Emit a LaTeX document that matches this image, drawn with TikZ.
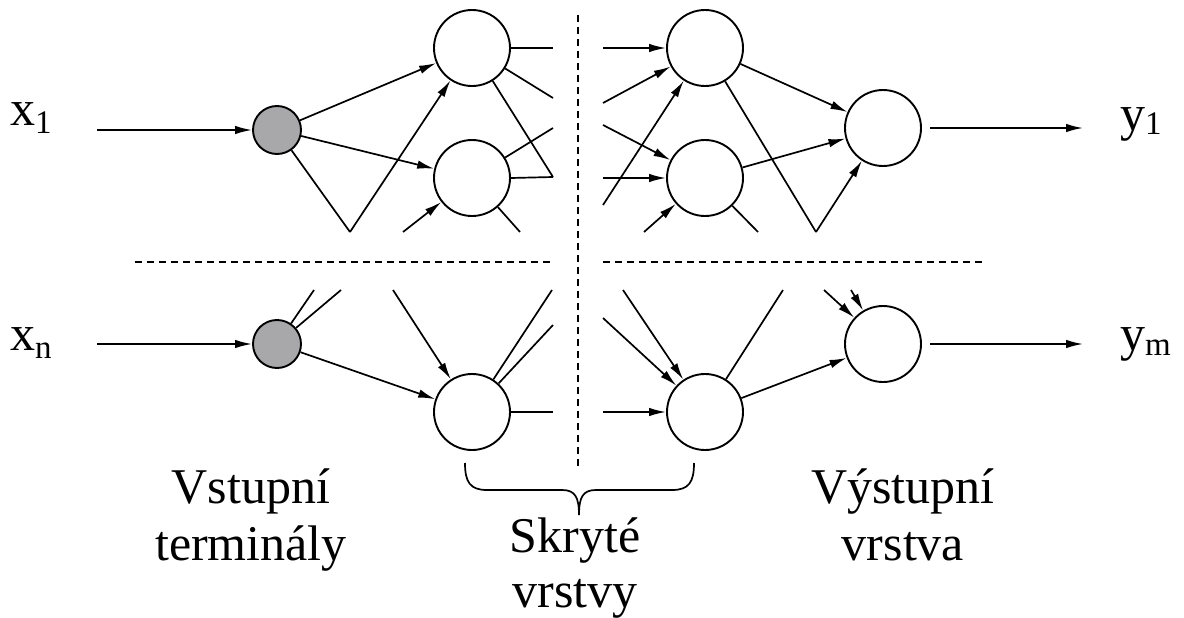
\documentclass[tikz,border=0pt]{standalone}
\usepackage{fontspec}
\setmainfont{Liberation Serif}
\usetikzlibrary{arrows.meta}
\definecolor{termgray}{RGB}{168,168,170}
\newcommand{\subsc}[2][8pt]{\raisebox{-#1}{\fontsize{33}{33}\selectfont #2}}
\begin{document}
\begin{tikzpicture}[x=1pt,y=-1pt,
  neuron/.style={circle,draw,line width=1.9pt,minimum size=76pt,inner sep=0pt},
  term/.style={circle,draw,line width=1.9pt,fill=termgray,minimum size=48pt,inner sep=0pt},
  conn/.style={line width=1.7pt},
  arr/.style={conn,-{Latex[length=17pt,width=8.5pt]}},
  lbl/.style={font=\fontsize{50}{56}\selectfont,inner sep=0pt},
  sep/.style={line width=1.4pt,dash pattern=on 7pt off 5pt}]
\useasboundingbox (0,0) rectangle (1184,618);

% nodes
\node[term] (G1) at (277,130) {};
\node[term] (Gn) at (277,344) {};
\node[neuron] (A1) at (472,48) {};
\node[neuron] (A2) at (472,178) {};
\node[neuron] (A3) at (472,412) {};
\node[neuron] (B1) at (705,48) {};
\node[neuron] (B2) at (705,178) {};
\node[neuron] (B3) at (705,412) {};
\node[neuron] (O1) at (883,128) {};
\node[neuron] (O2) at (883,344) {};

% free ends
\coordinate (in1) at (97,130);
\coordinate (inn) at (97,344);
\coordinate (o1s) at (930,128);
\coordinate (o1e) at (1083,128);
\coordinate (o2s) at (930,344);
\coordinate (o2e) at (1083,344);
\coordinate (t1) at (350,232);
\coordinate (t2) at (403,232);
\coordinate (t3) at (553,48);
\coordinate (t4) at (553,98);
\coordinate (t5) at (553,177);
\coordinate (t6) at (553,128);
\coordinate (t7) at (520,232);
\coordinate (u1) at (603,48);
\coordinate (u2) at (603,103);
\coordinate (u3) at (603,205);
\coordinate (u4) at (603,125);
\coordinate (u5) at (603,178);
\coordinate (u6) at (644,232);
\coordinate (u7) at (758,232);
\coordinate (u8) at (816,232);
\coordinate (b1) at (314,290);
\coordinate (b2) at (341,290);
\coordinate (b3) at (393,290);
\coordinate (b4) at (552,290);
\coordinate (b5) at (553,325);
\coordinate (b6) at (553,412);
\coordinate (c1) at (623,290);
\coordinate (c2) at (603,318);
\coordinate (c3) at (603,412);
\coordinate (c4) at (783,290);
\coordinate (c5) at (824,290);
\coordinate (c6) at (851,290);

% inputs / outputs
\draw[arr] (in1) -- (G1);
\draw[arr] (inn) -- (Gn);
\draw[arr] (o1s) -- (o1e);
\draw[arr] (o2s) -- (o2e);

% top-left block
\draw[arr] (G1) -- (A1);
\draw[arr] (G1) -- (A2);
\draw[conn] (G1) -- (t1);
\draw[arr] (t1) -- (A1);
\draw[arr] (t2) -- (A2);
\draw[conn] (A1.east) -- (t3);
\draw[conn] (A1) -- (t4);
\draw[conn] (A1) -- (t5);
\draw[conn] (A2.east) -- (t5);
\draw[conn] (A2) -- (t6);
\draw[conn] (A2) -- (t7);

% top-right block
\draw[arr] (u1) -- (B1);
\draw[arr] (u2) -- (B1);
\draw[arr] (u3) -- (B1);
\draw[arr] (u4) -- (B2);
\draw[arr] (u5) -- (B2);
\draw[arr] (u6) -- (B2);
\draw[conn] (B2) -- (u7);
\draw[conn] (B1) -- (u8);
\draw[arr] (u8) -- (O1);
\draw[arr] (B1) -- (O1);
\draw[arr] (B2) -- (O1);

% bottom-left block
\draw[conn] (Gn) -- (b1);
\draw[conn] (Gn) -- (b2);
\draw[arr] (Gn) -- (A3);
\draw[arr] (b3) -- (A3);
\draw[conn] (A3) -- (b4);
\draw[conn] (A3) -- (b5);
\draw[conn] (A3.east) -- (b6);

% bottom-right block
\draw[arr] (c1) -- (B3);
\draw[arr] (c2) -- (B3);
\draw[arr] (c3) -- (B3.west);
\draw[conn] (B3) -- (c4);
\draw[arr] (B3) -- (O2);
\draw[arr] (c5) -- (O2);
\draw[arr] (c6) -- (O2);

% separators
\draw[sep] (578,15) -- (578,470);
\draw[sep] (135,262) -- (553,262);
\draw[sep] (603,262) -- (985,262);

% brace
\draw[conn] (465,463) .. controls (465,482) and (470,490) .. (487,490) -- (562,490)
  .. controls (575,490) and (579,497) .. (579,515)
  .. controls (579,497) and (583,490) .. (596,490) -- (672,490)
  .. controls (689,490) and (694,482) .. (694,463);

% labels
\node[lbl,anchor=base west] (x1) at (10,125) {x\subsc{1}};
\node[lbl,anchor=base west] (xn) at (10,350) {x\subsc{n}};
\node[lbl,anchor=base west] (y1) at (1120,130) {y\subsc[5pt]{1}};
\node[lbl,anchor=base west] (ym) at (1120,350) {y\subsc[5pt]{m}};
\node[lbl,anchor=base] (v1) at (251,503) {Vstupní};
\node[lbl,anchor=base] (v2) at (251,560) {terminály};
\node[lbl,anchor=base] (s1) at (575,552) {Skryté};
\node[lbl,anchor=base] (s2) at (575,607) {vrstvy};
\node[lbl,anchor=base] (w1) at (903,503) {Výstupní};
\node[lbl,anchor=base] (w2) at (903,560) {vrstva};
\end{tikzpicture}
\end{document}
